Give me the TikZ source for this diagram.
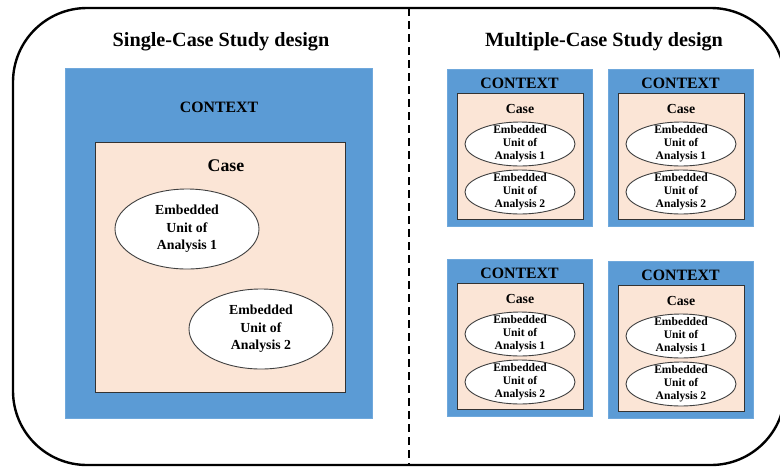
\documentclass[tikz,border=0pt]{standalone}
\usepackage{fontspec}
\setmainfont{Liberation Serif}
\usetikzlibrary{shapes.geometric}
\definecolor{ctxblue}{HTML}{5B9BD5}
\definecolor{ctxedge}{HTML}{6FA8DC}
\definecolor{casefill}{HTML}{FBE5D6}
\begin{document}
\begin{tikzpicture}[x=1pt,y=-1pt,
  ctxbox/.style={draw=ctxedge,fill=ctxblue,line width=0.6pt,anchor=north west,inner sep=0pt},
  casebox/.style={draw=black!80,fill=casefill,line width=0.9pt,anchor=north west,inner sep=0pt},
  unit/.style={ellipse,draw=black!75,fill=white,line width=0.9pt,inner sep=0pt},
  bigtitle/.style={font=\bfseries\fontsize{20.2}{22}\selectfont},
  ctxlbl/.style={font=\bfseries\fontsize{15.8}{17}\selectfont},
  caselblbig/.style={font=\bfseries\fontsize{17.8}{19}\selectfont},
  caselblsm/.style={font=\bfseries\fontsize{13.8}{15}\selectfont},
  unitbig/.style={align=center,font=\bfseries\fontsize{13.8}{17.5}\selectfont},
  unitsm/.style={align=center,font=\bfseries\fontsize{11.6}{13}\selectfont},
]
\useasboundingbox (0,0) rectangle (780,467);
% outer frame
\draw[line width=2.4pt,rounded corners=74pt] (13,8) rectangle (785,465);
\coordinate (dtop) at (409,8);
\coordinate (dbot) at (409,465);
\draw[line width=1.8pt,dash pattern=on 8pt off 5pt] (dtop) -- (dbot);
% titles
\node[bigtitle] (t1) at (221,42) {Single-Case Study design};
\node[bigtitle] (t2) at (604,42) {Multiple-Case Study design};
% single case
\node[ctxbox,minimum width=307,minimum height=350] (sctx) at (65,68) {};
\node[ctxlbl] (sctxl) at (219,107) {CONTEXT};
\node[casebox,minimum width=250,minimum height=250] (scase) at (95,142) {};
\node[caselblbig] (scasel) at (226,166) {Case};
\node[unit,minimum width=144,minimum height=80] (su1) at (187,229) {};
\node[unitbig] (su1t) at (su1) {Embedded\\Unit of\\Analysis 1};
\node[unit,minimum width=144,minimum height=80] (su2) at (261,329) {};
\node[unitbig] (su2t) at (su2) {Embedded\\Unit of\\Analysis 2};
% multiple cases
\foreach \n/\x/\y in {a/447/69,b/608/69,c/447/259,d/608/261}{
  \node[ctxbox,minimum width=145,minimum height=157] (ctx\n) at (\x,\y) {};
  \node[ctxlbl] (ctxl\n) at (\x+72.5,\y+14) {CONTEXT};
  \node[casebox,minimum width=126,minimum height=126] (case\n) at (\x+10,\y+24) {};
  \node[caselblsm] (casel\n) at (\x+73,\y+40) {Case};
  \node[unit,minimum width=110,minimum height=44] (u1\n) at (\x+73,\y+75) {};
  \node[unitsm] (u1t\n) at (u1\n) {Embedded\\Unit of\\Analysis 1};
  \node[unit,minimum width=110,minimum height=44] (u2\n) at (\x+73,\y+123) {};
  \node[unitsm] (u2t\n) at (u2\n) {Embedded\\Unit of\\Analysis 2};
}
\end{tikzpicture}
\end{document}
